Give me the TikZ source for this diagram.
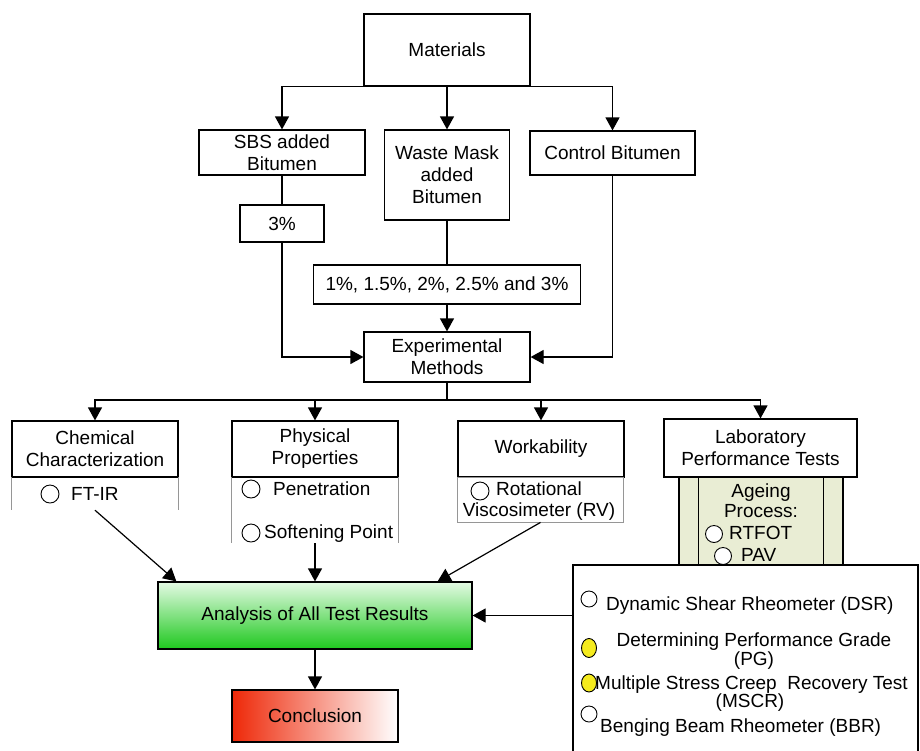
\documentclass[tikz,border=0pt]{standalone}
\usepackage{fontspec}
\setmainfont{Liberation Sans}
\usetikzlibrary{arrows.meta,calc,shapes.geometric}
\definecolor{agefill}{RGB}{233,237,212}
\definecolor{anatop}{RGB}{228,250,228}
\definecolor{anabot}{RGB}{30,200,30}
\definecolor{concl}{RGB}{238,40,8}
\definecolor{subgray}{RGB}{150,150,150}
\definecolor{ylw}{RGB}{245,235,30}
\begin{document}
\begin{tikzpicture}[x=1pt,y=-1pt,
  every node/.style={font=\fontsize{19}{22}\selectfont},
  box/.style={draw, line width=1.2pt, fill=white, inner sep=0pt, align=center},
  sub/.style={draw=none, inner sep=0pt},
  txt/.style={inner sep=0pt},
  dot/.style={circle, draw, line width=0.9pt, fill=white, inner sep=0pt, minimum size=18pt},
  ydot/.style={ellipse, draw, line width=0.9pt, fill=ylw, inner sep=0pt, minimum width=15pt, minimum height=19pt},
  arr/.style={line width=1.2pt, -{Triangle[length=13pt,width=14pt]}},
  ln/.style={line width=1.2pt},
  gln/.style={line width=0.8pt, draw=subgray}
]
\useasboundingbox (0,0) rectangle (920,750);

% top level
\node[box, minimum width=166pt, minimum height=72pt] (mat) at (447,50) {Materials};
\node[box, minimum width=166pt, minimum height=45pt] (sbs) at (282,152.5) {SBS added\\Bitumen};
\node[box, minimum width=125pt, minimum height=90pt] (waste) at (447,175) {Waste Mask\\added\\Bitumen};
\node[box, minimum width=165pt, minimum height=44pt] (ctrl) at (612.5,153) {Control Bitumen};
\node[box, minimum width=84pt, minimum height=37pt] (p3) at (282,223.5) {3\%};
\node[box, minimum width=267pt, minimum height=39pt] (p1) at (447,284.5) {1\%, 1.5\%, 2\%, 2.5\% and 3\%};
\node[box, minimum width=166pt, minimum height=50pt] (exp) at (447,357) {Experimental\\Methods};

\draw[arr] (mat.south) -| (sbs.north);
\draw[arr] (mat.south) -| (ctrl.north);
\draw[arr] (mat.south) -- (waste.north);
\draw[ln] (sbs.south) -- (p3.north);
\draw[arr] (p3.south) |- (exp.west);
\draw[ln] (waste.south) -- (p1.north);
\draw[arr] (p1.south) -- (exp.north);
\draw[arr] (ctrl.south) |- (exp.east);

% second level
\node[box, minimum width=166pt, minimum height=56pt] (chem) at (95,449) {Chemical\\Characterization};
\node[box, minimum width=166pt, minimum height=56pt] (phys) at (315,449) {Physical\\Properties};
\node[box, minimum width=166pt, minimum height=56pt] (work) at (541,449) {Workability};
\node[box, minimum width=193pt, minimum height=58pt] (lab) at (760.5,448) {Laboratory\\Performance Tests};

\coordinate (bus) at (447,400);
\draw[ln] (exp.south) -- (bus);
\draw[arr] (bus) -| (chem.north);
\draw[arr] (bus) -| (phys.north);
\draw[arr] (bus) -| (work.north);
\draw[arr] (bus) -| (lab.north);

% sub boxes
\node[sub, minimum width=166pt, minimum height=33pt] (chemsub) at (95,493.5) {};
\draw[gln] (chemsub.north west) -- (chemsub.south west);
\draw[gln] (chemsub.north east) -- (chemsub.south east);
\node[dot] (c1) at (50,494) {};
\node[txt, anchor=base west] (t1) at (71,500) {FT-IR};

\node[sub, minimum width=166pt, minimum height=66pt] (physsub) at (315,510) {};
\draw[gln] (physsub.north west) -- (physsub.south west);
\draw[gln] (physsub.north east) -- (physsub.south east);
\node[dot] (c2) at (251,489) {};
\node[txt, anchor=base west] (t2) at (273,495) {Penetration};
\node[dot] (c3) at (251,533) {};
\node[txt, anchor=base west] (t3) at (264,538) {Softening Point};

\node[sub, draw=subgray, line width=0.8pt, minimum width=166pt, minimum height=45pt] (worksub) at (540.5,499.5) {};
\node[dot] (c4) at (480,491) {};
\node[txt, anchor=base west] (t4) at (496,495) {Rotational};
\node[txt, anchor=base] (t5) at (539,516) {Viscosimeter (RV)};

% ageing
\node[draw, line width=1.2pt, fill=agefill, inner sep=0pt, minimum width=164pt, minimum height=88pt] (age) at (761,521) {};
\draw[ln] ($(age.north west)+(20,0)$) -- ($(age.south west)+(20,0)$);
\draw[ln] ($(age.north east)+(-20,0)$) -- ($(age.south east)+(-20,0)$);
\node[txt, anchor=base] (a1) at (761,497) {Ageing};
\node[txt, anchor=base] (a2) at (761,517) {Process:};
\node[dot, minimum size=17pt] (c5) at (714,534) {};
\node[txt, anchor=base west] (a3) at (729,539) {RTFOT};
\node[dot, minimum size=17pt] (c6) at (723,556) {};
\node[txt, anchor=base west] (a4) at (741,561) {PAV};

% big box
\node[draw, line width=1.2pt, fill=white, inner sep=0pt, minimum width=345pt, minimum height=195pt] (big) at (745.5,662.5) {};
\node[dot, minimum size=16pt] (b1) at (589,599) {};
\node[txt, anchor=base west] (bt1) at (606,610) {Dynamic Shear Rheometer (DSR)};
\node[ydot] (b2) at (589,648) {};
\node[txt, anchor=base] (bt2) at (754,646) {Determining Performance Grade};
\node[txt, anchor=base] (bt3) at (754,665) {(PG)};
\node[ydot, minimum height=18pt] (b3) at (589,683) {};
\node[txt, anchor=base west] (bt4) at (595,689) {Multiple Stress Creep\ \ Recovery Test};
\node[txt, anchor=base] (bt5) at (750,707) {(MSCR)};
\node[dot, minimum size=16pt] (b4) at (589,714) {};
\node[txt, anchor=base west] (bt6) at (600,732) {Benging Beam Rheometer (BBR)};

% analysis and conclusion
\node[box, top color=anatop, bottom color=anabot, minimum width=314pt, minimum height=67pt] (ana) at (315,615.5) {Analysis of All Test Results};
\node[box, left color=concl, right color=white, minimum width=166pt, minimum height=52pt] (conc) at (315,716) {Conclusion};

\draw[arr] (chemsub.south) -- ($(ana.north west)+(19,0)$);
\draw[arr] (physsub.south) -- (ana.north);
\draw[arr] (worksub.south) -- ($(ana.north east)+(-35,0)$);
\draw[arr] (ana.east -| big.west) -- (ana.east);
\draw[arr] (ana.south) -- (conc.north);
\end{tikzpicture}
\end{document}
